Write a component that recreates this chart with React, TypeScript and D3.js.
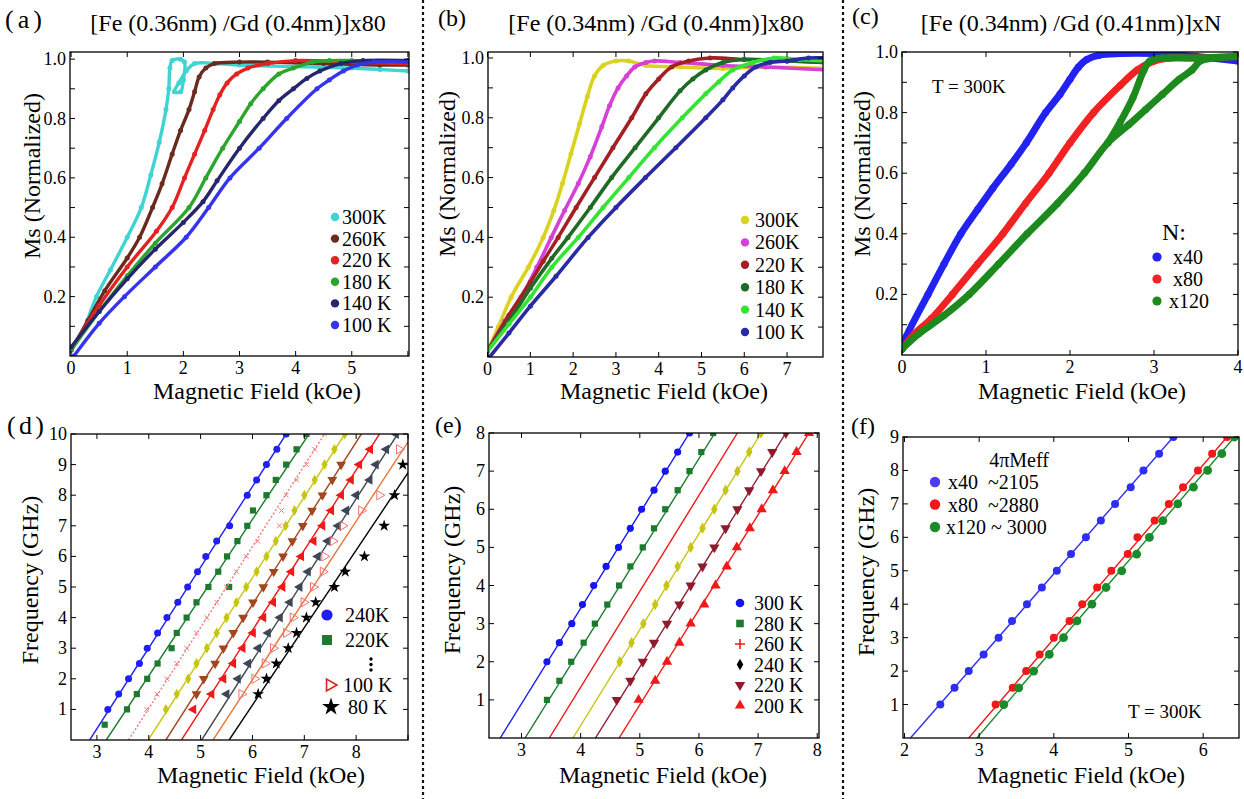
import React from 'react';
import * as d3 from 'd3';

type P = [number, number];
const SERIF = "'Liberation Serif', 'Times New Roman', 'DejaVu Serif', serif";

// ================= Panel (a) : Ms vs H, [Fe(0.36nm)/Gd(0.4nm)]x80 =================
const A_TITLE = '[Fe (0.36nm) /Gd (0.4nm)]x80';
const A_LEGEND = ['300K', '260K', '220 K', '180 K', '140 K', '100 K'];
const A_300K: P[] = [[0, 0.02], [0.2, 0.08], [0.45, 0.2], [0.7, 0.29], [1.0, 0.4], [1.25, 0.5], [1.42, 0.61], [1.57, 0.72], [1.69, 0.83], [1.74, 0.9], [1.76, 0.97], [1.8, 0.995], [1.95, 1.0], [2.02, 0.99], [2.0, 0.93], [1.95, 0.89], [1.84, 0.89], [1.92, 0.92], [2.05, 0.96], [2.2, 0.985], [2.6, 0.985], [3.0, 0.98], [4.0, 0.975], [5.0, 0.97], [5.5, 0.965], [6.0, 0.96]];
const A_260K: P[] = [[0, 0.02], [0.3, 0.12], [0.6, 0.22], [1.0, 0.33], [1.22, 0.4], [1.45, 0.5], [1.62, 0.58], [1.8, 0.68], [1.95, 0.76], [2.1, 0.83], [2.2, 0.89], [2.28, 0.94], [2.4, 0.97], [2.55, 0.985], [3.0, 0.99], [3.5, 0.99], [4.5, 0.985], [5.5, 0.98], [6.0, 0.98]];
const A_220K: P[] = [[0, 0.02], [0.5, 0.17], [1.0, 0.3], [1.52, 0.42], [1.8, 0.5], [2.02, 0.6], [2.2, 0.68], [2.38, 0.76], [2.53, 0.83], [2.65, 0.88], [2.78, 0.92], [2.95, 0.95], [3.15, 0.97], [3.5, 0.985], [4.0, 0.995], [5.0, 0.99], [6.0, 0.985]];
const A_180K: P[] = [[0, 0.02], [0.5, 0.15], [1.0, 0.27], [1.5, 0.38], [2.1, 0.5], [2.4, 0.6], [2.7, 0.7], [3.0, 0.79], [3.2, 0.85], [3.42, 0.9], [3.7, 0.95], [3.96, 0.97], [4.3, 0.99], [4.6, 0.995], [5.0, 0.995], [6.0, 0.99]];
const A_140K: P[] = [[0, 0.03], [0.5, 0.15], [1.0, 0.26], [1.5, 0.36], [2.0, 0.45], [2.35, 0.52], [2.6, 0.59], [3.0, 0.7], [3.42, 0.8], [3.7, 0.86], [3.96, 0.9], [4.2, 0.935], [4.43, 0.96], [4.8, 0.985], [5.2, 0.995], [6.0, 0.995]];
const A_100K: P[] = [[0.05, 0.0], [0.5, 0.11], [0.95, 0.2], [1.5, 0.3], [2.05, 0.4], [2.45, 0.5], [2.83, 0.6], [3.35, 0.7], [3.84, 0.8], [4.38, 0.9], [4.6, 0.93], [4.85, 0.96], [5.1, 0.98], [5.4, 0.99], [6.0, 0.99]];
const A_SERIES = [A_300K, A_260K, A_220K, A_180K, A_140K, A_100K];
const A_COLORS = ['#3fd3d3', '#6a2a1e', '#e32222', '#2ca52c', '#26266e', '#3434ee'];

// ================= Panel (b) : Ms vs H, [Fe(0.34nm)/Gd(0.4nm)]x80 =================
const B_TITLE = '[Fe (0.34nm) /Gd (0.4nm)]x80';
const B_LEGEND = ['300K', '260K', '220 K', '180 K', '140 K', '100 K'];
const B_300K: P[] = [[0, 0.02], [0.25, 0.1], [0.55, 0.2], [0.95, 0.3], [1.3, 0.4], [1.55, 0.49], [1.75, 0.58], [1.95, 0.68], [2.15, 0.78], [2.33, 0.87], [2.5, 0.94], [2.7, 0.975], [3.0, 0.99], [3.3, 0.99], [3.7, 0.975], [4.5, 0.97], [5.5, 0.965], [6.5, 0.97], [7.9, 0.965]];
const B_260K: P[] = [[0, 0.02], [0.4, 0.12], [0.78, 0.2], [1.15, 0.3], [1.49, 0.4], [1.8, 0.49], [2.12, 0.58], [2.4, 0.67], [2.67, 0.77], [2.85, 0.84], [3.05, 0.9], [3.25, 0.94], [3.44, 0.97], [3.7, 0.985], [3.9, 0.99], [4.5, 0.985], [5.5, 0.975], [6.5, 0.97], [7.9, 0.96]];
const B_220K: P[] = [[0, 0.02], [0.5, 0.14], [1.0, 0.25], [1.3, 0.32], [1.65, 0.4], [2.07, 0.5], [2.5, 0.6], [2.93, 0.7], [3.37, 0.8], [3.7, 0.88], [4.0, 0.93], [4.3, 0.97], [4.7, 0.99], [5.2, 1.0], [6.0, 0.995], [7.0, 0.99], [7.9, 0.985]];
const B_180K: P[] = [[0, 0.02], [0.5, 0.12], [1.0, 0.23], [1.5, 0.33], [1.88, 0.4], [2.4, 0.5], [2.9, 0.6], [3.45, 0.7], [4.0, 0.8], [4.5, 0.89], [4.8, 0.93], [5.1, 0.96], [5.5, 0.985], [6.0, 0.995], [7.0, 0.99], [7.9, 0.985]];
const B_140K: P[] = [[0, 0.02], [0.5, 0.11], [1.0, 0.2], [1.5, 0.3], [2.12, 0.4], [2.7, 0.5], [3.3, 0.6], [3.9, 0.7], [4.55, 0.8], [5.1, 0.88], [5.4, 0.92], [5.73, 0.96], [6.2, 0.985], [6.7, 1.0], [7.3, 0.995], [7.9, 0.99]];
const B_100K: P[] = [[0.05, 0.0], [0.5, 0.08], [1.0, 0.17], [1.6, 0.27], [2.35, 0.4], [3.0, 0.5], [3.69, 0.6], [4.4, 0.7], [5.1, 0.8], [5.5, 0.86], [5.73, 0.9], [6.0, 0.94], [6.27, 0.97], [6.6, 0.985], [7.0, 0.99], [7.5, 1.0], [7.9, 1.0]];
const B_SERIES = [B_300K, B_260K, B_220K, B_180K, B_140K, B_100K];
const B_COLORS = ['#d9d21e', '#d640d6', '#a41f24', '#1f6a24', '#34e434', '#2a2aa4'];

// ================= Panel (c) : Ms vs H, [Fe(0.34nm)/Gd(0.41nm)]xN =================
const C_TITLE = '[Fe (0.34nm) /Gd (0.41nm)]xN';
const C_LEGEND = ['x40', 'x80', 'x120'];
const C_X40: P[] = [[0, 0.02], [0.05, 0.06], [0.31, 0.2], [0.5, 0.3], [0.7, 0.4], [0.9, 0.48], [1.08, 0.55], [1.3, 0.63], [1.48, 0.7], [1.71, 0.8], [1.88, 0.86], [2.0, 0.91], [2.1, 0.95], [2.2, 0.975], [2.35, 0.99], [2.6, 0.995], [3.0, 0.995], [3.5, 0.985], [4.0, 0.97]];
const C_X80: P[] = [[0, 0.02], [0.15, 0.07], [0.35, 0.12], [0.6, 0.2], [0.9, 0.3], [1.2, 0.4], [1.47, 0.5], [1.75, 0.6], [2.0, 0.7], [2.28, 0.8], [2.6, 0.89], [2.8, 0.94], [3.0, 0.97], [3.2, 0.98], [3.5, 0.98], [4.0, 0.985]];
const C_X120: P[] = [[0, 0.02], [0.2, 0.07], [0.5, 0.13], [0.8, 0.2], [1.15, 0.3], [1.49, 0.4], [1.85, 0.5], [2.17, 0.6], [2.45, 0.7], [2.7, 0.76], [2.9, 0.81], [3.1, 0.86], [3.3, 0.91], [3.45, 0.94], [3.55, 0.97], [3.7, 0.98], [4.0, 0.985], [3.5, 0.98], [3.1, 0.98], [2.95, 0.97], [2.88, 0.94], [2.75, 0.85], [2.6, 0.77], [2.45, 0.7]];
const C_SERIES = [C_X40, C_X80, C_X120];
const C_COLORS = ['#2222f2', '#f22222', '#1c8a1c'];

// ================= Panel (d) : f vs H, temperature series =================
const D_KEYS = ['240K', '220K', 'T3', 'T4', 'T5', 'T6', 'T7', '100 K', '80 K'];
const D_240K: P[] = [[3.21, 1], [3.42, 1.5], [3.61, 2], [3.82, 2.5], [3.97, 3], [4.17, 3.5], [4.35, 4], [4.56, 4.5], [4.75, 5], [4.94, 5.5], [5.1, 6], [5.31, 6.5], [5.56, 7], [5.9, 8], [6.08, 8.5], [6.27, 9], [6.47, 9.5], [6.65, 10]];
const D_220K: P[] = [[3.15, 0.5], [3.58, 1], [3.77, 1.5], [3.97, 2], [4.17, 2.5], [4.44, 3], [4.54, 3.5], [4.73, 4], [4.92, 4.5], [5.15, 5], [5.55, 5], [5.34, 5.5], [5.51, 6], [5.71, 6.5], [5.9, 7], [6.01, 7.5], [6.27, 8], [6.45, 8.5], [6.65, 9], [6.85, 9.5], [7.04, 10]];
const D_T3: P[] = [[3.96, 1], [4.16, 1.5], [4.35, 2], [4.54, 2.5], [4.73, 3], [4.92, 3.5], [5.12, 4], [5.31, 4.5], [5.5, 5], [5.69, 5.5], [5.88, 6], [6.1, 6.5], [6.52, 7], [6.56, 7.5], [6.65, 8], [6.85, 8.5], [7.04, 9], [7.2, 9.5], [7.39, 10]];
const D_T4: P[] = [[4.33, 1], [4.54, 1.5], [4.76, 2], [4.92, 2.5], [5.12, 3], [5.31, 3.5], [5.5, 4], [5.69, 4.5], [5.88, 5], [6.08, 5.5], [6.27, 6], [6.45, 6.5], [6.64, 7], [6.81, 7.5], [7.0, 8], [7.2, 8.5], [7.39, 9], [7.58, 9.5], [7.78, 10]];
const D_T5: P[] = [[4.92, 1.5], [5.06, 2], [5.28, 2.5], [5.44, 3], [5.63, 3.5], [5.82, 4], [6.01, 4.5], [6.21, 5], [6.41, 5.5], [6.59, 6], [6.77, 6.5], [6.97, 7], [7.15, 7.5], [7.35, 8], [7.54, 8.5], [7.71, 9]];
const D_T6: P[] = [[4.86, 1], [5.21, 1.5], [5.44, 2], [5.63, 2.5], [5.81, 3], [6.01, 3.5], [6.21, 4], [6.4, 4.5], [6.58, 5], [6.75, 5.5], [6.94, 6], [7.18, 6.5], [7.35, 7], [7.52, 7.5], [7.71, 8], [7.9, 8.5], [8.06, 9], [8.27, 9.5]];
const D_T7: P[] = [[5.5, 1.5], [5.72, 2], [5.92, 2.5], [6.11, 3], [6.3, 3.5], [6.53, 4], [6.72, 4.5], [6.91, 5], [7.07, 5.5], [7.26, 6], [7.45, 6.5], [7.65, 7], [7.81, 7.5], [8.0, 8], [8.26, 8.5], [8.38, 9], [8.58, 9.5], [8.77, 10]];
const D_100K: P[] = [[5.79, 1.5], [6.04, 2], [6.24, 2.5], [6.4, 3], [6.65, 3.5], [6.78, 4], [6.99, 4.5], [7.17, 5], [7.36, 5.5], [7.39, 6], [7.55, 6.5], [7.74, 7], [8.1, 7.5], [8.45, 8], [8.83, 9.5]];
const D_80K: P[] = [[6.11, 1.5], [6.27, 2], [6.46, 2.5], [6.69, 3], [6.85, 3.5], [7.04, 4], [7.22, 4.5], [7.58, 5], [7.79, 5.5], [8.16, 6], [8.54, 7], [8.74, 8], [8.9, 9]];
const D_SERIES = [D_240K, D_220K, D_T3, D_T4, D_T5, D_T6, D_T7, D_100K, D_80K];
// fitted lines: field at f = 0 and at f = 10 GHz
const D_FIT0 = [2.86, 3.18, 3.61, 3.99, 4.33, 4.63, 5.02, 5.24, 5.55];
const D_FIT10 = [6.65, 7.09, 7.39, 7.78, 8.1, 8.45, 8.8, 9.1, 9.5];
const D_LEGEND = ['240K', '220K', '100 K', '80 K'];

// ================= Panel (e) : f vs H =================
const E_LEGEND = ['300 K', '280 K', '260 K', '240 K', '220 K', '200 K'];
const E_300K: P[] = [[3.43, 2], [3.64, 2.5], [3.85, 3], [4.03, 3.5], [4.22, 4], [4.43, 4.5], [4.64, 5], [4.84, 5.5], [5.03, 6], [5.24, 6.5], [5.43, 7], [5.64, 7.5], [5.84, 8]];
const E_280K: P[] = [[3.43, 1], [3.64, 1.5], [3.84, 2], [4.05, 2.5], [4.24, 3], [4.45, 3.5], [4.65, 4], [4.84, 4.5], [5.05, 5], [5.24, 5.5], [5.43, 6], [5.64, 6.5], [5.84, 7], [6.04, 7.5], [6.24, 8]];
const E_260K: P[] = [];
const E_240K: P[] = [[4.66, 2], [4.86, 2.5], [5.06, 3], [5.26, 3.5], [5.45, 4], [5.64, 4.5], [5.86, 5], [6.06, 5.5], [6.26, 6], [6.45, 6.5], [6.65, 7], [6.85, 7.5], [7.05, 8]];
const E_220K: P[] = [[4.61, 1], [4.84, 1.5], [5.05, 2], [5.24, 2.5], [5.46, 3], [5.67, 3.5], [5.86, 4], [6.06, 4.5], [6.26, 5], [6.45, 5.5], [6.65, 6], [6.85, 6.5], [7.05, 7], [7.24, 7.5], [7.47, 8]];
const E_200K: P[] = [[4.98, 1], [5.26, 1.5], [5.46, 2], [5.67, 2.5], [5.86, 3], [6.09, 3.5], [6.28, 4], [6.47, 4.5], [6.64, 5], [6.86, 5.5], [7.06, 6], [7.25, 6.5], [7.45, 7], [7.65, 7.5], [7.86, 8]];
const E_SERIES = [E_300K, E_280K, E_260K, E_240K, E_220K, E_200K];
// fitted lines: field at f = 0 and at f = 8 GHz
const E_FIT0 = [2.64, 3.06, 3.47, 3.87, 4.25, 4.65];
const E_FIT8 = [5.84, 6.27, 6.65, 7.05, 7.47, 7.86];

// ================= Panel (f) : f vs H, thickness series =================
const F_LEGEND = ['x40  ~2105', 'x80  ~2880', 'x120 ~ 3000'];
const F_X40: P[] = [[2.48, 1], [2.67, 1.5], [2.86, 2], [3.06, 2.5], [3.26, 3], [3.44, 3.5], [3.64, 4], [3.84, 4.5], [4.04, 5], [4.23, 5.5], [4.43, 6], [4.63, 6.5], [4.82, 7], [5.03, 7.5], [5.2, 8], [5.41, 8.5], [5.6, 9]];
const F_X80: P[] = [[3.22, 1], [3.45, 1.5], [3.63, 2], [3.81, 2.5], [4.0, 3], [4.21, 3.5], [4.38, 4], [4.58, 4.5], [4.77, 5], [4.99, 5.5], [5.12, 6], [5.35, 6.5], [5.54, 7], [5.73, 7.5], [5.93, 8], [6.12, 8.5], [6.32, 9]];
const F_X120: P[] = [[3.33, 1], [3.53, 1.5], [3.73, 2], [3.94, 2.5], [4.13, 3], [4.31, 3.5], [4.51, 4], [4.7, 4.5], [4.91, 5], [5.11, 5.5], [5.28, 6], [5.46, 6.5], [5.66, 7], [5.87, 7.5], [6.06, 8], [6.25, 8.5], [6.42, 9]];
const F_SERIES = [F_X40, F_X80, F_X120];
// fitted lines: field at f = 0 and at f = 9 GHz
const F_FIT0 = [2.08, 2.86, 2.97];
const F_FIT9 = [5.6, 6.32, 6.42];

// ---------------- tick values ----------------
const MS_TICKS = [0.1, 0.2, 0.3, 0.4, 0.5, 0.6, 0.7, 0.8, 0.9, 1.0];
const MS_LABELS = [0.2, 0.4, 0.6, 0.8, 1.0];

// ---------------- styles ----------------
type Box = { l: number; r: number; t: number; b: number };
const BOX_A: Box = { l: 70, r: 409, t: 52, b: 356 };
const BOX_B: Box = { l: 488, r: 823, t: 52, b: 357 };
const BOX_C: Box = { l: 902, r: 1238, t: 52, b: 355 };
const BOX_D: Box = { l: 71, r: 408, t: 434, b: 740 };
const BOX_E: Box = { l: 489, r: 819, t: 433, b: 738 };
const BOX_F: Box = { l: 903, r: 1239, t: 437, b: 738 };

type MStyle = { shape: string; size: number; fill: string; stroke?: string; rot?: number; sw?: number };

const D_STYLES: { line: string; dash?: string; m: MStyle }[] = [
  { line: '#1f1ff2', m: { shape: 'circle', size: 3.5, fill: '#1f1ff2' } },
  { line: '#1b7a2e', m: { shape: 'square', size: 3.1, fill: '#1b7a2e' } },
  { line: '#f07a7a', dash: '2,2', m: { shape: 'x', size: 2.4, fill: 'none', stroke: '#f07a7a', sw: 1 } },
  { line: '#c8c412', m: { shape: 'diamond', size: 3.6, fill: '#c8c412' } },
  { line: '#a2461e', m: { shape: 'tri', size: 3.6, fill: '#a2461e', rot: 180 } },
  { line: '#f01818', m: { shape: 'tri', size: 3.6, fill: '#f01818', rot: -90 } },
  { line: '#3d4756', m: { shape: 'tri', size: 3.6, fill: '#3d4756', rot: -90 } },
  { line: '#e8763c', m: { shape: 'tri', size: 3.4, fill: 'none', stroke: '#f07070', rot: 90, sw: 1 } },
  { line: '#000000', m: { shape: 'star', size: 3.6, fill: '#000' } },
];

const E_STYLES: { line: string; m: MStyle }[] = [
  { line: '#1515f0', m: { shape: 'circle', size: 3.6, fill: '#1515f0' } },
  { line: '#1b7a2e', m: { shape: 'square', size: 3.1, fill: '#1b7a2e' } },
  { line: '#f01818', m: { shape: 'plus', size: 4, fill: 'none', stroke: '#f01818', sw: 1.4 } },
  { line: '#c8c412', m: { shape: 'diamond', size: 3.8, fill: '#c8c412' } },
  { line: '#8e1b2c', m: { shape: 'tri', size: 3.8, fill: '#8e1b2c', rot: 180 } },
  { line: '#f01818', m: { shape: 'tri', size: 3.8, fill: '#f01818' } },
];
const E_LEG_FILLS = ['#1515f0', '#1b7a2e', '#f01818', '#000000', '#8e1b2c', '#f01818'];

const F_COLORS = ['#2e2ef2', '#f01818', '#1b8a2a'];
const F_LEG_COLORS = ['#4a3cf5', '#f01818', '#1b8a2a'];

// ---------------- helpers ----------------
function markerPath(shape: string, s: number): string {
  switch (shape) {
    case 'circle':
      return d3.symbol(d3.symbolCircle, Math.PI * s * s)() as string;
    case 'square':
      return d3.symbol(d3.symbolSquare, 4 * s * s)() as string;
    case 'diamond':
      return d3.symbol(d3.symbolDiamond, 2.6 * s * s)() as string;
    case 'tri':
      return d3.symbol(d3.symbolTriangle, 3.2 * s * s)() as string;
    case 'star':
      return d3.symbol(d3.symbolStar, 3.4 * s * s)() as string;
    case 'plus':
      return `M${-s},0H${s}M0,${-s}V${s}`;
    case 'x':
      return `M${-s},${-s}L${s},${s}M${-s},${s}L${s},${-s}`;
    default:
      return '';
  }
}

function Marker({ x, y, m }: { x: number; y: number; m: MStyle }) {
  return (
    <path
      d={markerPath(m.shape, m.size)}
      transform={`translate(${x},${y}) rotate(${m.rot || 0})`}
      fill={m.fill}
      stroke={m.stroke || 'none'}
      strokeWidth={m.sw || 1}
    />
  );
}

function scales(box: Box, xd: [number, number], yd: [number, number]) {
  const x = d3.scaleLinear().domain(xd).range([box.l, box.r]);
  const y = d3.scaleLinear().domain(yd).range([box.b, box.t]);
  return { x, y };
}

function Frame({
  box, x, y, xTicks, xLabels, yTicks, yLabels, yFmt,
}: {
  box: Box;
  x: d3.ScaleLinear<number, number>;
  y: d3.ScaleLinear<number, number>;
  xTicks: number[];
  xLabels: number[];
  yTicks: number[];
  yLabels: number[];
  yFmt: (v: number) => string;
}) {
  const tl = 5;
  return (
    <g>
      <rect x={box.l} y={box.t} width={box.r - box.l} height={box.b - box.t} fill="none" stroke="#000" strokeWidth={1.3} />
      {xTicks.map((v) => (
        <g key={'xt' + v}>
          <line x1={x(v)} x2={x(v)} y1={box.b} y2={box.b - tl} stroke="#000" strokeWidth={1} />
          <line x1={x(v)} x2={x(v)} y1={box.t} y2={box.t + tl} stroke="#000" strokeWidth={1} />
        </g>
      ))}
      {yTicks.map((v) => (
        <g key={'yt' + v}>
          <line x1={box.l} x2={box.l + tl} y1={y(v)} y2={y(v)} stroke="#000" strokeWidth={1} />
          <line x1={box.r} x2={box.r - tl} y1={y(v)} y2={y(v)} stroke="#000" strokeWidth={1} />
        </g>
      ))}
      {xLabels.map((v) => (
        <text key={'xl' + v} x={x(v)} y={box.b + 18} fontSize={18} textAnchor="middle">
          {String(v)}
        </text>
      ))}
      {yLabels.map((v) => (
        <text key={'yl' + v} x={box.l - 4} y={y(v)} fontSize={18} textAnchor="end" dominantBaseline="central">
          {yFmt(v)}
        </text>
      ))}
    </g>
  );
}

function YLabel({ x, y, text }: { x: number; y: number; text: string }) {
  return (
    <text transform={`translate(${x},${y}) rotate(-90)`} fontSize={24} textAnchor="middle" dominantBaseline="central">
      {text}
    </text>
  );
}

function MHCurves({ id, x, y, series, colors, band, dot }: {
  id: string; x: d3.ScaleLinear<number, number>; y: d3.ScaleLinear<number, number>;
  series: P[][]; colors: string[]; band: number; dot: number;
}) {
  const line = d3.line<P>().x((d) => x(d[0])).y((d) => y(d[1])).curve(d3.curveCatmullRom.alpha(0.5));
  return (
    <g clipPath={`url(#${id})`}>
      {series.map((s, i) => (
        <g key={i}>
          <path d={line(s) as string} fill="none" stroke={colors[i]} strokeWidth={band} strokeLinejoin="round" strokeLinecap="round" />
          {s.map((p, j) => (
            <circle key={j} cx={x(p[0])} cy={y(p[1])} r={dot} fill={colors[i]} />
          ))}
        </g>
      ))}
    </g>
  );
}

const fmt1 = d3.format('.1f');
const fmt0 = (v: number) => String(v);

export default function App() {
  React.useEffect(() => {
    document.body.style.margin = '0';
  }, []);

  const A = scales(BOX_A, [-0.02, 6.02], [0, 1.024]);
  const B = scales(BOX_B, [0.01, 7.84], [0, 1.02]);
  const C = scales(BOX_C, [0, 4.0], [0, 1.0]);
  const D = scales(BOX_D, [2.5, 9.0], [0, 10]);
  const E = scales(BOX_E, [2.45, 8.03], [0, 8]);
  const F = scales(BOX_F, [1.98, 6.48], [0, 9]);

  const boxes: [string, Box][] = [['ca', BOX_A], ['cb', BOX_B], ['cc', BOX_C], ['cd', BOX_D], ['ce', BOX_E], ['cf', BOX_F]];

  return (
    <svg width={1244} height={799} style={{ display: 'block', position: 'absolute', left: 0, top: 0, background: '#fff', fontFamily: SERIF }}>
      <defs>
        {boxes.map(([id, b]) => (
          <clipPath id={id} key={id}>
            <rect x={b.l} y={b.t} width={b.r - b.l} height={b.b - b.t} />
          </clipPath>
        ))}
      </defs>
      <rect x={0} y={0} width={1244} height={799} fill="#fff" />

      {/* separators */}
      <line x1={423} x2={423} y1={0} y2={799} stroke="#111" strokeWidth={2.2} strokeDasharray="3,3" />
      <line x1={843} x2={843} y1={0} y2={799} stroke="#111" strokeWidth={2.2} strokeDasharray="3,3" />

      {/* panel labels */}
      <text x={5} y={28} fontSize={26} textLength={37} lengthAdjust="spacing">(a)</text>
      <text x={438} y={26} fontSize={24}>(b)</text>
      <text x={852} y={24} fontSize={24}>(c)</text>
      <text x={7} y={434} fontSize={26} textLength={37} lengthAdjust="spacing">(d)</text>
      <text x={435} y={433} fontSize={24}>(e)</text>
      <text x={851} y={434} fontSize={24}>(f)</text>

      {/* titles */}
      <text x={238} y={31} fontSize={24} textAnchor="middle">{A_TITLE}</text>
      <text x={656} y={31} fontSize={24} textAnchor="middle">{B_TITLE}</text>
      <text x={1071} y={31} fontSize={24} textAnchor="middle">{C_TITLE}</text>

      {/* ===== (a) ===== */}
      <MHCurves id="ca" x={A.x} y={A.y} series={A_SERIES} colors={A_COLORS} band={3.4} dot={2.5} />
      <Frame box={BOX_A} x={A.x} y={A.y} xTicks={[0, 1, 2, 3, 4, 5, 6]} xLabels={[0, 1, 2, 3, 4, 5]} yTicks={MS_TICKS} yLabels={MS_LABELS} yFmt={fmt1} />
      {A_LEGEND.map((t, i) => (
        <g key={t}>
          <circle cx={335} cy={217 + i * 21.6} r={4.2} fill={A_COLORS[i]} />
          <text x={342} y={217 + i * 21.6} fontSize={20} dominantBaseline="central">{t}</text>
        </g>
      ))}
      <text x={257} y={399} fontSize={24} textAnchor="middle">Magnetic Field (kOe)</text>
      <YLabel x={32} y={176} text="Ms (Normalized)" />

      {/* ===== (b) ===== */}
      <MHCurves id="cb" x={B.x} y={B.y} series={B_SERIES} colors={B_COLORS} band={3.6} dot={2.5} />
      <Frame box={BOX_B} x={B.x} y={B.y} xTicks={[0, 1, 2, 3, 4, 5, 6, 7]} xLabels={[0, 1, 2, 3, 4, 5, 6, 7]} yTicks={MS_TICKS} yLabels={MS_LABELS} yFmt={fmt1} />
      {B_LEGEND.map((t, i) => (
        <g key={t}>
          <circle cx={745} cy={220 + i * 22.4} r={4.2} fill={B_COLORS[i]} />
          <text x={755} y={220 + i * 22.4} fontSize={20} dominantBaseline="central">{t}</text>
        </g>
      ))}
      <text x={664} y={399} fontSize={24} textAnchor="middle">Magnetic Field (kOe)</text>
      <YLabel x={447} y={174} text="Ms (Normalized)" />

      {/* ===== (c) ===== */}
      <MHCurves id="cc" x={C.x} y={C.y} series={C_SERIES} colors={C_COLORS} band={7} dot={3.6} />
      <Frame box={BOX_C} x={C.x} y={C.y} xTicks={[0, 1, 2, 3, 4]} xLabels={[0, 1, 2, 3, 4]} yTicks={MS_TICKS} yLabels={MS_LABELS} yFmt={fmt1} />
      <text x={932} y={93} fontSize={19}>T = 300K</text>
      <text x={1162} y={240} fontSize={24}>N:</text>
      {C_LEGEND.map((t, i) => (
        <g key={t}>
          <circle cx={1157} cy={257 + i * 22} r={4.6} fill={C_COLORS[i]} />
          <text x={i === 2 ? 1169 : 1173} y={257 + i * 22} fontSize={20} dominantBaseline="central">{t}</text>
        </g>
      ))}
      <text x={1082} y={399} fontSize={24} textAnchor="middle">Magnetic Field (kOe)</text>
      <YLabel x={862} y={174} text="Ms (Normalized)" />

      {/* ===== (d) ===== */}
      <g clipPath="url(#cd)">
        {D_SERIES.map((s, i) => (
          <g key={D_KEYS[i]}>
            <line x1={D.x(D_FIT0[i])} y1={D.y(0)} x2={D.x(D_FIT10[i])} y2={D.y(10)} stroke={D_STYLES[i].line} strokeWidth={1.4} strokeDasharray={D_STYLES[i].dash} />
            {s.map((p, j) => (
              <Marker key={j} x={D.x(p[0])} y={D.y(p[1])} m={D_STYLES[i].m} />
            ))}
          </g>
        ))}
      </g>
      <Frame box={BOX_D} x={D.x} y={D.y} xTicks={[3, 4, 5, 6, 7, 8, 9]} xLabels={[3, 4, 5, 6, 7, 8]} yTicks={[1, 2, 3, 4, 5, 6, 7, 8, 9, 10]} yLabels={[1, 2, 3, 4, 5, 6, 7, 8, 9, 10]} yFmt={fmt0} />
      <g>
        <circle cx={327} cy={615} r={5.6} fill="#1f1ff2" />
        <text x={345} y={615} fontSize={20} dominantBaseline="central">{D_LEGEND[0]}</text>
        <rect x={322} y={635} width={10} height={10} fill="#1b7a2e" />
        <text x={345} y={640} fontSize={20} dominantBaseline="central">{D_LEGEND[1]}</text>
        <circle cx={371} cy={659} r={1.7} fill="#000" />
        <circle cx={371} cy={664.5} r={1.7} fill="#000" />
        <circle cx={371} cy={670} r={1.7} fill="#000" />
        <path d={markerPath('tri', 4.4)} transform="translate(330,685) rotate(90)" fill="none" stroke="#e02020" strokeWidth={1.6} />
        <text x={343} y={685} fontSize={20} dominantBaseline="central">{D_LEGEND[2]}</text>
        <path d={markerPath('star', 5.4)} transform="translate(331,707)" fill="#000" />
        <text x={348} y={707} fontSize={20} dominantBaseline="central">{D_LEGEND[3]}</text>
      </g>
      <text x={261} y={783} fontSize={24} textAnchor="middle">Magnetic Field (kOe)</text>
      <YLabel x={30} y={580} text="Frequency (GHz)" />

      {/* ===== (e) ===== */}
      <g clipPath="url(#ce)">
        {E_SERIES.map((s, i) => (
          <g key={E_LEGEND[i]}>
            <line x1={E.x(E_FIT0[i])} y1={E.y(0)} x2={E.x(E_FIT8[i])} y2={E.y(8)} stroke={E_STYLES[i].line} strokeWidth={1.4} />
            {s.map((p, j) => (
              <Marker key={j} x={E.x(p[0])} y={E.y(p[1])} m={E_STYLES[i].m} />
            ))}
          </g>
        ))}
      </g>
      <Frame box={BOX_E} x={E.x} y={E.y} xTicks={[3, 4, 5, 6, 7, 8]} xLabels={[3, 4, 5, 6, 7, 8]} yTicks={[1, 2, 3, 4, 5, 6, 7, 8]} yLabels={[1, 2, 3, 4, 5, 6, 7, 8]} yFmt={fmt0} />
      {E_LEGEND.map((t, i) => {
        const cy = 603 + i * 20.5;
        const m: MStyle =
          i === 2
            ? { shape: 'plus', size: 5, fill: 'none', stroke: E_LEG_FILLS[i], sw: 1.6 }
            : { ...E_STYLES[i].m, fill: E_LEG_FILLS[i], size: i === 0 ? 4.3 : 3.8 };
        return (
          <g key={t}>
            <Marker x={740} y={cy} m={m} />
            <text x={754} y={cy} fontSize={20} dominantBaseline="central">{t}</text>
          </g>
        );
      })}
      <text x={663} y={783} fontSize={24} textAnchor="middle">Magnetic Field (kOe)</text>
      <YLabel x={452} y={570} text="Frequency (GHz)" />

      {/* ===== (f) ===== */}
      <g clipPath="url(#cf)">
        {F_SERIES.map((s, i) => (
          <g key={i}>
            <line x1={F.x(F_FIT0[i])} y1={F.y(0)} x2={F.x(F_FIT9[i])} y2={F.y(9)} stroke={F_COLORS[i]} strokeWidth={1.4} />
            {s.map((p, j) => (
              <circle key={j} cx={F.x(p[0])} cy={F.y(p[1])} r={i === 2 ? 4.4 : 4} fill={F_COLORS[i]} />
            ))}
          </g>
        ))}
      </g>
      <Frame box={BOX_F} x={F.x} y={F.y} xTicks={[2, 3, 4, 5, 6]} xLabels={[2, 3, 4, 5, 6]} yTicks={[1, 2, 3, 4, 5, 6, 7, 8, 9]} yLabels={[1, 2, 3, 4, 5, 6, 7, 8, 9]} yFmt={fmt0} />
      <text x={1019} y={467} fontSize={20} textAnchor="middle">4πMeff</text>
      {F_LEGEND.map((t, i) => (
        <g key={t}>
          <circle cx={935} cy={482 + i * 22.5} r={5.2} fill={F_LEG_COLORS[i]} />
          <text x={i === 2 ? 946 : 948} y={482 + i * 22.5} fontSize={20} dominantBaseline="central" style={{ whiteSpace: 'pre' }}>{t}</text>
        </g>
      ))}
      <text x={1128} y={718} fontSize={19}>T = 300K</text>
      <text x={1081} y={783} fontSize={24} textAnchor="middle">Magnetic Field (kOe)</text>
      <YLabel x={866} y={572} text="Frequency (GHz)" />
    </svg>
  );
}
